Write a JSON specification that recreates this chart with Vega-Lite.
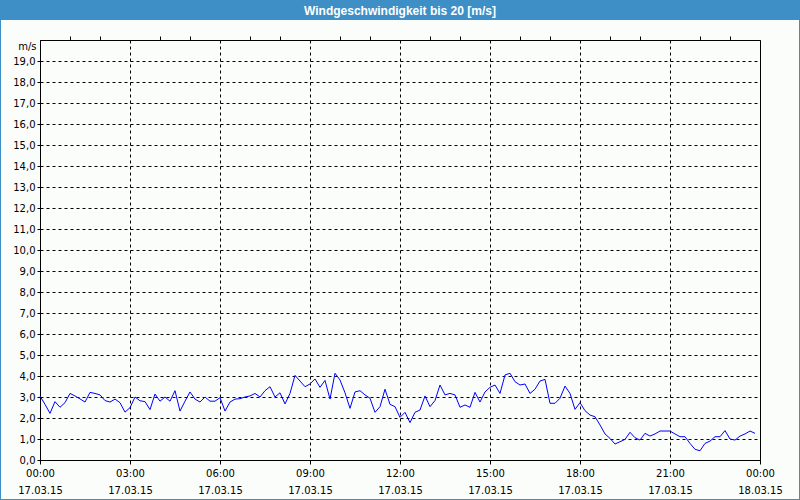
{
  "$schema": "https://vega.github.io/schema/vega-lite/v6.json",
  "width": 720,
  "height": 420,
  "autosize": {"type": "none"},
  "padding": {"left": 40, "top": 40, "right": 40, "bottom": 40},
  "background": "#fbfdfb",
  "title": {
    "text": "Windgeschwindigkeit bis 20 [m/s]",
    "color": "#ffffff",
    "font": "Liberation Sans",
    "fontSize": 12,
    "fontWeight": "bold",
    "anchor": "middle",
    "frame": "group",
    "baseline": "middle",
    "offset": -25,
    "zindex": 2
  },
  "config": {
    "view": {"stroke": "#000000", "strokeWidth": 1, "fill": "#fbfdfb"},
    "axis": {"labelFont": "DejaVu Sans", "labelFontSize": 10, "labelColor": "#000000", "titleFont": "DejaVu Sans", "titleColor": "#000000"}
  },
  "datasets": {
    "wind": [
      {"t": "2015-03-17T00:00", "v": 3.05}, {"t": "2015-03-17T00:10", "v": 2.65}, {"t": "2015-03-17T00:20", "v": 2.22}, {"t": "2015-03-17T00:30", "v": 2.78}, {"t": "2015-03-17T00:40", "v": 2.51}, {"t": "2015-03-17T00:50", "v": 2.73},
      {"t": "2015-03-17T01:00", "v": 3.17}, {"t": "2015-03-17T01:10", "v": 3.05}, {"t": "2015-03-17T01:20", "v": 2.91}, {"t": "2015-03-17T01:30", "v": 2.76}, {"t": "2015-03-17T01:40", "v": 3.22}, {"t": "2015-03-17T01:50", "v": 3.17},
      {"t": "2015-03-17T02:00", "v": 3.1}, {"t": "2015-03-17T02:10", "v": 2.83}, {"t": "2015-03-17T02:20", "v": 2.76}, {"t": "2015-03-17T02:30", "v": 2.9}, {"t": "2015-03-17T02:40", "v": 2.73}, {"t": "2015-03-17T02:50", "v": 2.28},
      {"t": "2015-03-17T03:00", "v": 2.49}, {"t": "2015-03-17T03:10", "v": 3.0}, {"t": "2015-03-17T03:20", "v": 2.82}, {"t": "2015-03-17T03:30", "v": 2.78}, {"t": "2015-03-17T03:40", "v": 2.4}, {"t": "2015-03-17T03:50", "v": 3.14},
      {"t": "2015-03-17T04:00", "v": 2.8}, {"t": "2015-03-17T04:10", "v": 3.0}, {"t": "2015-03-17T04:20", "v": 2.8}, {"t": "2015-03-17T04:30", "v": 3.3}, {"t": "2015-03-17T04:40", "v": 2.33}, {"t": "2015-03-17T04:50", "v": 2.8},
      {"t": "2015-03-17T05:00", "v": 3.24}, {"t": "2015-03-17T05:10", "v": 2.9}, {"t": "2015-03-17T05:20", "v": 2.76}, {"t": "2015-03-17T05:30", "v": 3.0}, {"t": "2015-03-17T05:40", "v": 2.8}, {"t": "2015-03-17T05:50", "v": 2.8},
      {"t": "2015-03-17T06:00", "v": 2.97}, {"t": "2015-03-17T06:10", "v": 2.33}, {"t": "2015-03-17T06:20", "v": 2.76}, {"t": "2015-03-17T06:30", "v": 2.9}, {"t": "2015-03-17T06:40", "v": 2.92}, {"t": "2015-03-17T06:50", "v": 3.0},
      {"t": "2015-03-17T07:00", "v": 3.05}, {"t": "2015-03-17T07:10", "v": 3.17}, {"t": "2015-03-17T07:20", "v": 3.0}, {"t": "2015-03-17T07:30", "v": 3.3}, {"t": "2015-03-17T07:40", "v": 3.49}, {"t": "2015-03-17T07:50", "v": 3.0},
      {"t": "2015-03-17T08:00", "v": 3.2}, {"t": "2015-03-17T08:10", "v": 2.67}, {"t": "2015-03-17T08:20", "v": 3.17}, {"t": "2015-03-17T08:30", "v": 4.03}, {"t": "2015-03-17T08:40", "v": 3.76}, {"t": "2015-03-17T08:50", "v": 3.49},
      {"t": "2015-03-17T09:00", "v": 3.62}, {"t": "2015-03-17T09:10", "v": 3.86}, {"t": "2015-03-17T09:20", "v": 3.46}, {"t": "2015-03-17T09:30", "v": 3.79}, {"t": "2015-03-17T09:40", "v": 2.9}, {"t": "2015-03-17T09:50", "v": 4.13},
      {"t": "2015-03-17T10:00", "v": 3.81}, {"t": "2015-03-17T10:10", "v": 3.2}, {"t": "2015-03-17T10:20", "v": 2.46}, {"t": "2015-03-17T10:30", "v": 3.24}, {"t": "2015-03-17T10:40", "v": 3.3}, {"t": "2015-03-17T10:50", "v": 3.1},
      {"t": "2015-03-17T11:00", "v": 2.94}, {"t": "2015-03-17T11:10", "v": 2.27}, {"t": "2015-03-17T11:20", "v": 2.54}, {"t": "2015-03-17T11:30", "v": 3.37}, {"t": "2015-03-17T11:40", "v": 2.65}, {"t": "2015-03-17T11:50", "v": 2.54},
      {"t": "2015-03-17T12:00", "v": 2.03}, {"t": "2015-03-17T12:10", "v": 2.27}, {"t": "2015-03-17T12:20", "v": 1.78}, {"t": "2015-03-17T12:30", "v": 2.27}, {"t": "2015-03-17T12:40", "v": 2.38}, {"t": "2015-03-17T12:50", "v": 3.05},
      {"t": "2015-03-17T13:00", "v": 2.54}, {"t": "2015-03-17T13:10", "v": 2.83}, {"t": "2015-03-17T13:20", "v": 3.57}, {"t": "2015-03-17T13:30", "v": 3.1}, {"t": "2015-03-17T13:40", "v": 3.17}, {"t": "2015-03-17T13:50", "v": 3.1},
      {"t": "2015-03-17T14:00", "v": 2.51}, {"t": "2015-03-17T14:10", "v": 2.62}, {"t": "2015-03-17T14:20", "v": 2.51}, {"t": "2015-03-17T14:30", "v": 3.22}, {"t": "2015-03-17T14:40", "v": 2.76}, {"t": "2015-03-17T14:50", "v": 3.24},
      {"t": "2015-03-17T15:00", "v": 3.46}, {"t": "2015-03-17T15:10", "v": 3.57}, {"t": "2015-03-17T15:20", "v": 3.17}, {"t": "2015-03-17T15:30", "v": 4.05}, {"t": "2015-03-17T15:40", "v": 4.13}, {"t": "2015-03-17T15:50", "v": 3.73},
      {"t": "2015-03-17T16:00", "v": 3.57}, {"t": "2015-03-17T16:10", "v": 3.62}, {"t": "2015-03-17T16:20", "v": 3.17}, {"t": "2015-03-17T16:30", "v": 3.37}, {"t": "2015-03-17T16:40", "v": 3.76}, {"t": "2015-03-17T16:50", "v": 3.84},
      {"t": "2015-03-17T17:00", "v": 2.7}, {"t": "2015-03-17T17:10", "v": 2.7}, {"t": "2015-03-17T17:20", "v": 2.94}, {"t": "2015-03-17T17:30", "v": 3.52}, {"t": "2015-03-17T17:40", "v": 3.17}, {"t": "2015-03-17T17:50", "v": 2.41},
      {"t": "2015-03-17T18:00", "v": 2.73}, {"t": "2015-03-17T18:10", "v": 2.35}, {"t": "2015-03-17T18:20", "v": 2.14}, {"t": "2015-03-17T18:30", "v": 2.06}, {"t": "2015-03-17T18:40", "v": 1.67}, {"t": "2015-03-17T18:50", "v": 1.24},
      {"t": "2015-03-17T19:00", "v": 1.03}, {"t": "2015-03-17T19:10", "v": 0.76}, {"t": "2015-03-17T19:20", "v": 0.87}, {"t": "2015-03-17T19:30", "v": 0.98}, {"t": "2015-03-17T19:40", "v": 1.32}, {"t": "2015-03-17T19:50", "v": 1.06},
      {"t": "2015-03-17T20:00", "v": 0.95}, {"t": "2015-03-17T20:10", "v": 1.27}, {"t": "2015-03-17T20:20", "v": 1.14}, {"t": "2015-03-17T20:30", "v": 1.24}, {"t": "2015-03-17T20:40", "v": 1.38}, {"t": "2015-03-17T20:50", "v": 1.38},
      {"t": "2015-03-17T21:00", "v": 1.38}, {"t": "2015-03-17T21:10", "v": 1.24}, {"t": "2015-03-17T21:20", "v": 1.11}, {"t": "2015-03-17T21:30", "v": 1.11}, {"t": "2015-03-17T21:40", "v": 0.79}, {"t": "2015-03-17T21:50", "v": 0.51},
      {"t": "2015-03-17T22:00", "v": 0.44}, {"t": "2015-03-17T22:10", "v": 0.79}, {"t": "2015-03-17T22:20", "v": 0.9}, {"t": "2015-03-17T22:30", "v": 1.11}, {"t": "2015-03-17T22:40", "v": 1.11}, {"t": "2015-03-17T22:50", "v": 1.4},
      {"t": "2015-03-17T23:00", "v": 1.0}, {"t": "2015-03-17T23:10", "v": 0.95}, {"t": "2015-03-17T23:20", "v": 1.14}, {"t": "2015-03-17T23:30", "v": 1.24}, {"t": "2015-03-17T23:40", "v": 1.38}, {"t": "2015-03-17T23:50", "v": 1.27}
    ]
  },
  "data": {"name": "wind"},
  "resolve": {"axis": {"x": "independent", "y": "independent"}},
  "layer": [
    {
      "data": {"values": [{}]},
      "mark": {"type": "rect", "fill": "#3d8fc6", "clip": false},
      "encoding": {
        "x": {"datum": {"year": 2015, "month": 3, "date": 16, "hours": 22, "minutes": 40}, "type": "temporal", "axis": null, "scale": {"domain": [{"year": 2015, "month": 3, "date": 17}, {"year": 2015, "month": 3, "date": 18}], "nice": false}},
        "x2": {"datum": {"year": 2015, "month": 3, "date": 18, "hours": 1, "minutes": 20}},
        "y": {"datum": 20.95, "type": "quantitative", "axis": null, "scale": {"domain": [0, 20], "nice": false}},
        "y2": {"datum": 21.95}
      }
    },
    {
      "data": {"values": [{}]},
      "mark": {"type": "rect", "fill": null, "filled": false, "stroke": "#3d8fc6", "strokeWidth": 2, "clip": false},
      "encoding": {
        "x": {"datum": {"year": 2015, "month": 3, "date": 16, "hours": 22, "minutes": 40}, "type": "temporal", "axis": null},
        "x2": {"datum": {"year": 2015, "month": 3, "date": 18, "hours": 1, "minutes": 20}},
        "y": {"datum": -1.905, "type": "quantitative", "axis": null},
        "y2": {"datum": 21.95}
      }
    },
    {
      "mark": {"type": "line", "color": "#0000ff", "strokeWidth": 1, "interpolate": "linear"},
      "encoding": {
        "x": {
          "field": "t", "type": "temporal",
          "axis": {
            "title": null,
            "values": [
              {"year": 2015, "month": 3, "date": 17, "hours": 0}, {"year": 2015, "month": 3, "date": 17, "hours": 3},
              {"year": 2015, "month": 3, "date": 17, "hours": 6}, {"year": 2015, "month": 3, "date": 17, "hours": 9},
              {"year": 2015, "month": 3, "date": 17, "hours": 12}, {"year": 2015, "month": 3, "date": 17, "hours": 15},
              {"year": 2015, "month": 3, "date": 17, "hours": 18}, {"year": 2015, "month": 3, "date": 17, "hours": 21},
              {"year": 2015, "month": 3, "date": 18, "hours": 0}
            ],
            "labelExpr": "[timeFormat(datum.value, '%H:%M'), timeFormat(datum.value, '%d.%m.%y')]",
            "labelLineHeight": 17,
            "labelBaseline": "top",
            "labelPadding": 4,
            "labelFlush": false,
            "labelOverlap": false,
            "labelBound": false,
            "grid": true,
            "gridColor": "#000000",
            "gridDash": [3, 3],
            "gridOpacity": 1,
            "gridWidth": 1,
            "domainColor": "#000000",
            "tickColor": "#000000",
            "tickSize": 4
          }
        },
        "y": {
          "field": "v", "type": "quantitative",
          "axis": {
            "values": [0, 1, 2, 3, 4, 5, 6, 7, 8, 9, 10, 11, 12, 13, 14, 15, 16, 17, 18, 19],
            "labelExpr": "replace(format(datum.value, '.1f'), '.', ',')",
            "title": "m/s",
            "titleAngle": 0,
            "titleAlign": "right",
            "titleBaseline": "middle",
            "titleFontWeight": "normal",
            "titleFontSize": 10,
            "titleX": -4,
            "titleY": 6,
            "grid": true,
            "gridColor": "#000000",
            "gridDash": [3, 3],
            "gridOpacity": 1,
            "gridWidth": 1,
            "domainColor": "#000000",
            "tickColor": "#000000",
            "tickSize": 3,
            "labelPadding": 2
          }
        }
      }
    },
    {
      "mark": {"type": "point", "opacity": 0},
      "encoding": {
        "x": {
          "field": "t", "type": "temporal",
          "axis": {
            "title": null,
            "labels": false,
            "grid": false,
            "domain": false,
            "tickColor": "#000000",
            "tickSize": 4,
            "values": [
              {"year": 2015, "month": 3, "date": 17, "hours": 1}, {"year": 2015, "month": 3, "date": 17, "hours": 2},
              {"year": 2015, "month": 3, "date": 17, "hours": 4}, {"year": 2015, "month": 3, "date": 17, "hours": 5},
              {"year": 2015, "month": 3, "date": 17, "hours": 7}, {"year": 2015, "month": 3, "date": 17, "hours": 8},
              {"year": 2015, "month": 3, "date": 17, "hours": 10}, {"year": 2015, "month": 3, "date": 17, "hours": 11},
              {"year": 2015, "month": 3, "date": 17, "hours": 13}, {"year": 2015, "month": 3, "date": 17, "hours": 14},
              {"year": 2015, "month": 3, "date": 17, "hours": 16}, {"year": 2015, "month": 3, "date": 17, "hours": 17},
              {"year": 2015, "month": 3, "date": 17, "hours": 19}, {"year": 2015, "month": 3, "date": 17, "hours": 20},
              {"year": 2015, "month": 3, "date": 17, "hours": 22}, {"year": 2015, "month": 3, "date": 17, "hours": 23}
            ]
          }
        },
        "y": {"field": "v", "type": "quantitative", "axis": null}
      }
    }
  ]
}
